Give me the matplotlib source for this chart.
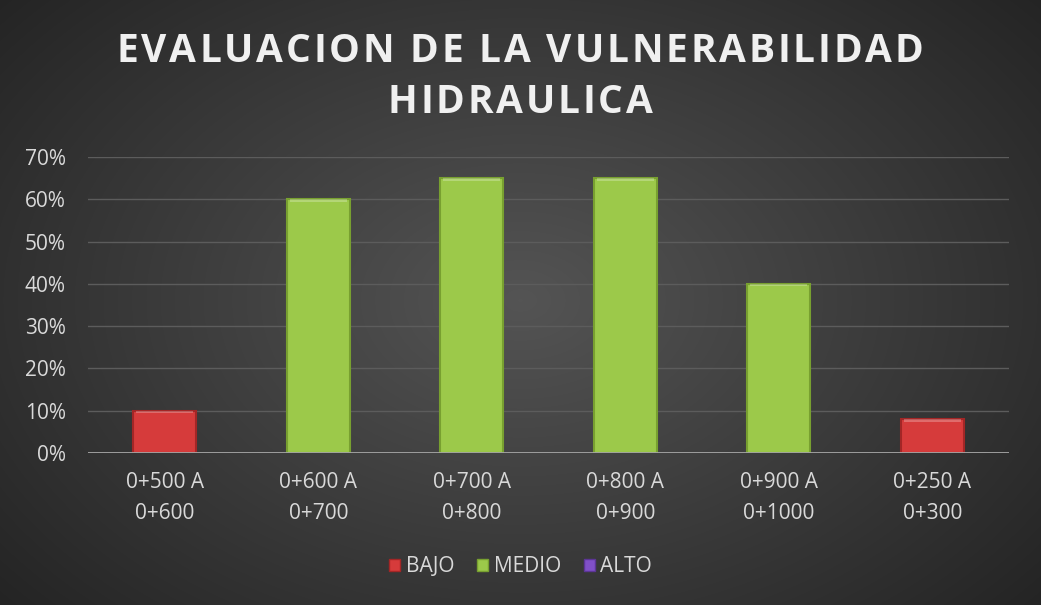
import numpy as np
import matplotlib
matplotlib.use('Agg')
from matplotlib import pyplot as plt
from matplotlib.patches import Patch
from matplotlib.font_manager import FontProperties, findfont, get_font

categories = ['0+500 A\n0+600', '0+600 A\n0+700', '0+700 A\n0+800',
              '0+800 A\n0+900', '0+900 A\n0+1000', '0+250 A\n0+300']
values = [0.10, 0.60, 0.65, 0.65, 0.40, 0.08]
levels = ['BAJO', 'MEDIO', 'MEDIO', 'MEDIO', 'MEDIO', 'BAJO']
legend_names = ['BAJO', 'MEDIO', 'ALTO']
title_lines = ['EVALUACION DE LA VULNERABILIDAD', 'HIDRAULICA']
level_colors = {'BAJO': '#d63b3b', 'MEDIO': '#9cc94a', 'ALTO': '#8050c8'}
level_edges = {'BAJO': '#a32626', 'MEDIO': '#78a030', 'ALTO': '#5c3596'}

W, H = 1041, 605
fig = plt.figure(figsize=(W / 100, H / 100), dpi=100)

# radial background
bg = fig.add_axes([0, 0, 1, 1])
yy, xx = np.mgrid[0:H, 0:W]
r = np.sqrt(((xx - 520) / 620.0) ** 2 + ((yy - 300) / 420.0) ** 2)
shade = np.clip(0.33 - 0.17 * r, 0.13, 0.33)
bg.imshow(np.dstack([shade] * 3), aspect='auto', extent=[0, 1, 0, 1])
bg.axis('off')

ax = fig.add_axes([88 / W, 1 - 453 / H, 921 / W, 296 / H])
ax.patch.set_alpha(0)
x = np.arange(len(categories))
for xi, v, lv in zip(x, values, levels):
    ax.bar(xi, v, width=0.41, color=level_colors[lv], edgecolor=level_edges[lv],
           linewidth=1.5, zorder=3)
    ax.bar(xi, 0.006, bottom=v - 0.006, width=0.37, color='white', alpha=0.25,
           linewidth=0, zorder=4)

ax.set_xlim(-0.5, len(categories) - 0.5)
ax.set_ylim(0, 0.70)
ticks = np.arange(0, 0.71, 0.10)
ax.set_yticks(ticks)
ax.set_yticklabels([f'{int(round(t * 100))}%' for t in ticks])
ax.set_xticks(x)
ax.set_xticklabels(categories, linespacing=1.62)
ax.tick_params(axis='both', length=0, colors='#d9d9d9', labelsize=15)
ax.tick_params(axis='x', pad=14)
ax.tick_params(axis='y', pad=16)
for lab in ax.get_yticklabels() + ax.get_xticklabels():
    lab.set_fontfamily('Open Sans')
ax.grid(axis='y', color='#5c5c5c', linewidth=1, zorder=0)
ax.axhline(0, color='#a6a6a6', linewidth=2, zorder=5)
for s in ax.spines.values():
    s.set_visible(False)

# letter-spaced title, placed character by character using glyph advances
fsize = 28
fp = FontProperties(family='Open Sans', weight='bold', size=fsize)
font = get_font(findfont(fp))
font.set_size(fsize, 100)
track = 2.8


def adv(c):
    g = font.load_char(ord(c))
    return g.linearHoriAdvance / 65536.0


for line, yc in zip(title_lines, [47, 98]):
    widths = [adv(c) + track for c in line]
    total = sum(widths) - track
    xpos = 520 - total / 2
    for c, w in zip(line, widths):
        if c != ' ':
            fig.text(xpos / W, 1 - yc / H, c, ha='left', va='center_baseline',
                     color='#f0f0f0', fontproperties=fp)
        xpos += w

handles = [Patch(facecolor=level_colors[n], edgecolor=level_edges[n]) for n in legend_names]
leg = fig.legend(handles, legend_names, loc='center', bbox_to_anchor=(0.5, 1 - 567 / H),
                 ncol=3, frameon=False, fontsize=15, handlelength=0.55, handleheight=0.55,
                 handletextpad=0.25, columnspacing=1.1)
for t in leg.get_texts():
    t.set_color('#d9d9d9')
    t.set_fontfamily('Open Sans')

fig.savefig('out.png', dpi=100)
